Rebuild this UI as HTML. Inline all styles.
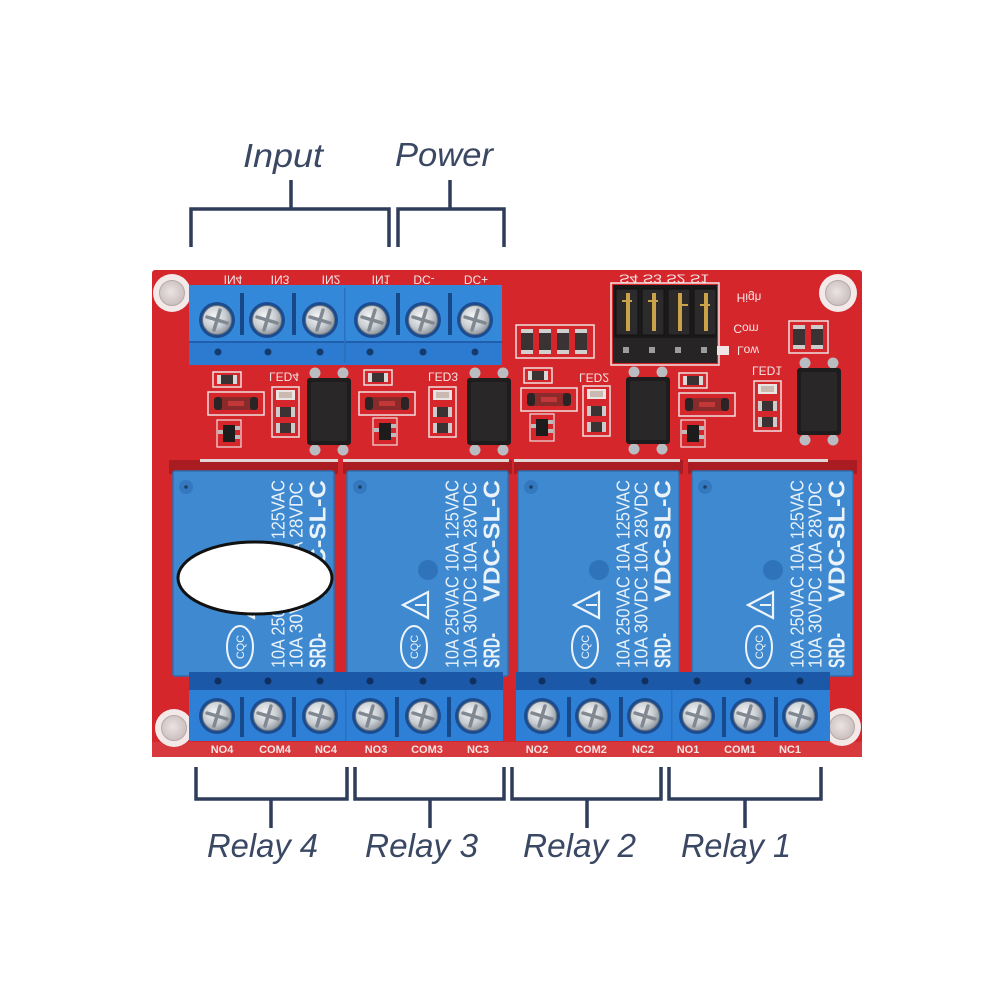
<!DOCTYPE html>
<html><head><meta charset="utf-8"><style>
html,body{margin:0;padding:0;background:#fff;}
svg{display:block;}
</style></head><body>
<svg width="1000" height="1000" viewBox="0 0 1000 1000" xmlns="http://www.w3.org/2000/svg">
<defs>
<radialGradient id="sg" cx="40%" cy="38%" r="65%">
<stop offset="0" stop-color="#f4f5f6"/><stop offset="0.6" stop-color="#c9ced3"/><stop offset="1" stop-color="#8f969e"/>
</radialGradient>
<radialGradient id="hg" cx="45%" cy="45%" r="60%">
<stop offset="0" stop-color="#ebe3e3"/><stop offset="1" stop-color="#c9bcbc"/>
</radialGradient>
<g id="scr">
<circle r="18" fill="#1b4c90"/>
<circle r="14.5" fill="url(#sg)" stroke="#69727c" stroke-width="1"/>
<path d="M-10,-3 L10,3 M-3,10 L3,-10" stroke="#808891" stroke-width="3.5" stroke-linecap="round"/>
</g>
<g id="hole">
<circle r="19" fill="#f2e9e8"/>
<circle r="12.5" fill="url(#hg)" stroke="#b7a9a9" stroke-width="1"/>
</g>
<g id="opto">
<circle cx="8" cy="-5" r="5.5" fill="#b9bcc0"/><circle cx="36" cy="-5" r="5.5" fill="#b9bcc0"/>
<circle cx="8" cy="72" r="5.5" fill="#b9bcc0"/><circle cx="36" cy="72" r="5.5" fill="#b9bcc0"/>
<rect x="0" y="0" width="44" height="67" rx="3" fill="#1e1c1d"/>
<rect x="4" y="4" width="36" height="59" rx="2" fill="#2a2728"/>
</g>
<g id="res">
<rect x="0" y="0" width="28" height="15" fill="none" stroke="#efdfdf" stroke-width="1.5"/>
<rect x="4" y="3" width="20" height="9" fill="#3b3333"/>
<rect x="4" y="3" width="4" height="9" fill="#d8d8d8"/><rect x="20" y="3" width="4" height="9" fill="#d8d8d8"/>
</g>
<g id="dio">
<rect x="0" y="0" width="56" height="23" fill="none" stroke="#efdfdf" stroke-width="1.5"/>
<rect x="6" y="5" width="44" height="13" rx="6" fill="#8a2a2a"/>
<rect x="6" y="5" width="8" height="13" rx="3" fill="#2a2424"/><rect x="42" y="5" width="8" height="13" rx="3" fill="#2a2424"/>
<rect x="20" y="9" width="16" height="5" fill="#c23838"/>
</g>
<g id="tr">
<rect x="0" y="0" width="24" height="27" fill="none" stroke="#efdfdf" stroke-width="1.2"/>
<rect x="6" y="5" width="12" height="17" fill="#1d1b1c"/>
<rect x="1" y="10" width="5" height="4" fill="#bbb"/><rect x="18" y="6" width="5" height="4" fill="#bbb"/><rect x="18" y="15" width="5" height="4" fill="#bbb"/>
</g>
<g id="col">
<rect x="0" y="0" width="27" height="50" fill="none" stroke="#efdfdf" stroke-width="1.5"/>
<rect x="4" y="3" width="19" height="10" fill="#e8e4e4"/><rect x="7" y="5" width="13" height="6" fill="#c9b9b0"/>
<rect x="4" y="20" width="19" height="10" fill="#3b3333"/><rect x="4" y="20" width="4" height="10" fill="#ccc"/><rect x="19" y="20" width="4" height="10" fill="#ccc"/>
<rect x="4" y="36" width="19" height="10" fill="#3b3333"/><rect x="4" y="36" width="4" height="10" fill="#ccc"/><rect x="19" y="36" width="4" height="10" fill="#ccc"/>
</g>
<g id="relay">
<rect x="0" y="0" width="161" height="205" rx="2" fill="#3e89cf" stroke="#2e6fb0" stroke-width="1.5"/>
<circle cx="13" cy="16" r="7" fill="#3479bf"/><circle cx="13" cy="16" r="1.8" fill="#1d3f66"/>
<circle cx="81" cy="99" r="10" fill="#2f74ba"/>
<polygon points="56,134 81,121 81,147" fill="none" stroke="#eef4fa" stroke-width="2.2"/>
<line x1="68" y1="134" x2="79" y2="134" stroke="#eef4fa" stroke-width="2"/>
<ellipse cx="67" cy="176" rx="13" ry="21" fill="none" stroke="#eef4fa" stroke-width="2"/>
<text transform="translate(71,188) rotate(-90)" font-family="Liberation Sans, sans-serif" font-size="11" fill="#eef4fa" textLength="24" lengthAdjust="spacingAndGlyphs">CQC</text>
<text transform="translate(111.5,197) rotate(-90)" font-family="Liberation Sans, sans-serif" font-size="18" fill="#eaf2fa" textLength="188" lengthAdjust="spacingAndGlyphs">10A 250VAC  10A 125VAC</text>
<text transform="translate(129.5,197) rotate(-90)" font-family="Liberation Sans, sans-serif" font-size="18" fill="#eaf2fa" textLength="186" lengthAdjust="spacingAndGlyphs">10A  30VDC  10A  28VDC</text>
<text transform="translate(152.5,197) rotate(-90)" font-family="Liberation Sans, sans-serif" font-size="23" font-weight="bold" fill="#eaf2fa" textLength="35" lengthAdjust="spacingAndGlyphs">SRD-</text>
<text transform="translate(152.5,131) rotate(-90)" font-family="Liberation Sans, sans-serif" font-size="23" font-weight="bold" fill="#eaf2fa" textLength="122" lengthAdjust="spacingAndGlyphs">VDC-SL-C</text>
</g>
</defs>

<rect width="1000" height="1000" fill="#fff"/>

<!-- board -->
<rect x="152" y="270" width="710" height="487" rx="3" fill="#d4262b"/>
<rect x="152" y="742" width="710" height="15" fill="#d8393c"/>

<use href="#hole" x="172" y="293"/>
<use href="#hole" x="838" y="293"/>
<use href="#hole" x="174" y="728"/>
<use href="#hole" x="842" y="727"/>

<!-- top silkscreen labels (flipped) -->
<g font-family="Liberation Sans, sans-serif" font-size="12" fill="#f4e6e6" text-anchor="middle">
<text transform="translate(233,280) scale(1,-1)" y="4.5">IN4</text>
<text transform="translate(280,280) scale(1,-1)" y="4.5">IN3</text>
<text transform="translate(331,280) scale(1,-1)" y="4.5">IN2</text>
<text transform="translate(381,280) scale(1,-1)" y="4.5">IN1</text>
<text transform="translate(424,280) scale(1,-1)" y="4.5">DC-</text>
<text transform="translate(476,280) scale(1,-1)" y="4.5">DC+</text>
<text transform="translate(664,279) scale(1,-1)" y="4.5" textLength="90" lengthAdjust="spacingAndGlyphs">S4 S3 S2 S1</text>
<text transform="translate(749,298) scale(1,-1)" y="4.5">High</text>
<text transform="translate(746,329) scale(1,-1)" y="4.5">Com</text>
<text transform="translate(748,351) scale(1,-1)" y="4.5">Low</text>
<text transform="translate(284,377) scale(1,-1)" y="4.5">LED4</text>
<text transform="translate(443,377) scale(1,-1)" y="4.5">LED3</text>
<text transform="translate(594,378) scale(1,-1)" y="4.5">LED2</text>
<text transform="translate(767,371) scale(1,-1)" y="4.5">LED1</text>
</g>
<rect x="717" y="346" width="12" height="9" fill="#f0e4e4"/>

<!-- top terminal block -->
<rect x="189" y="285" width="313" height="80" fill="#2c7bd0"/>
<rect x="189" y="285" width="313" height="57" fill="#3488da"/>
<rect x="189" y="341" width="313" height="2" fill="#1f5fae"/>
<rect x="240" y="293" width="4" height="42" fill="#17498a"/>
<rect x="292" y="293" width="4" height="42" fill="#17498a"/>
<rect x="344" y="288" width="1.5" height="75" fill="#2a6fc0"/>
<rect x="396" y="293" width="4" height="42" fill="#17498a"/>
<rect x="448" y="293" width="4" height="42" fill="#17498a"/>
<g fill="#153b6e">
<circle cx="218" cy="352" r="3.5"/><circle cx="268" cy="352" r="3.5"/><circle cx="320" cy="352" r="3.5"/>
<circle cx="370" cy="352" r="3.5"/><circle cx="423" cy="352" r="3.5"/><circle cx="475" cy="352" r="3.5"/>
</g>
<use href="#scr" x="217" y="320"/><use href="#scr" x="267" y="320"/><use href="#scr" x="320" y="320"/>
<use href="#scr" x="372" y="320"/><use href="#scr" x="423" y="320"/><use href="#scr" x="475" y="320"/>

<!-- jumper header -->
<rect x="611" y="283" width="108" height="82" fill="none" stroke="#f1e3e3" stroke-width="1.5"/>
<rect x="613" y="285" width="104" height="78" fill="#1b1a1a"/>
<rect x="613" y="338" width="104" height="25" fill="#262424"/>
<g fill="#2c2a2a" stroke="#111" stroke-width="1">
<rect x="616" y="289" width="22" height="46"/><rect x="642" y="289" width="22" height="46"/>
<rect x="668" y="289" width="22" height="46"/><rect x="694" y="289" width="22" height="46"/>
</g>
<g fill="#c9a24a">
<rect x="626" y="293" width="4" height="38"/><rect x="622" y="300" width="10" height="2"/>
<rect x="652" y="293" width="4" height="38"/><rect x="648" y="300" width="10" height="2"/>
<rect x="678" y="293" width="4" height="38"/><rect x="680" y="304" width="8" height="2"/>
<rect x="704" y="293" width="4" height="38"/><rect x="700" y="304" width="10" height="2"/>
</g>
<g fill="#9c9c9c">
<rect x="623" y="347" width="6" height="6"/><rect x="649" y="347" width="6" height="6"/>
<rect x="675" y="347" width="6" height="6"/><rect x="701" y="347" width="6" height="6"/>
</g>

<!-- resistor row channel 2 -->
<rect x="516" y="325" width="78" height="33" fill="none" stroke="#efdfdf" stroke-width="1.5"/>
<g fill="#3b3333">
<rect x="521" y="329" width="12" height="25"/><rect x="539" y="329" width="12" height="25"/>
<rect x="557" y="329" width="12" height="25"/><rect x="575" y="329" width="12" height="25"/>
</g>
<g fill="#d0d0d0">
<rect x="521" y="329" width="12" height="4"/><rect x="521" y="350" width="12" height="4"/>
<rect x="539" y="329" width="12" height="4"/><rect x="539" y="350" width="12" height="4"/>
<rect x="557" y="329" width="12" height="4"/><rect x="557" y="350" width="12" height="4"/>
<rect x="575" y="329" width="12" height="4"/><rect x="575" y="350" width="12" height="4"/>
</g>
<!-- two resistors channel 1 -->
<rect x="789" y="321" width="39" height="32" fill="none" stroke="#efdfdf" stroke-width="1.5"/>
<rect x="793" y="325" width="12" height="24" fill="#3b3333"/><rect x="811" y="325" width="12" height="24" fill="#3b3333"/>
<rect x="793" y="325" width="12" height="4" fill="#ccc"/><rect x="793" y="345" width="12" height="4" fill="#ccc"/>
<rect x="811" y="325" width="12" height="4" fill="#ccc"/><rect x="811" y="345" width="12" height="4" fill="#ccc"/>

<!-- channel components -->
<use href="#res" x="213" y="372"/><use href="#dio" x="208" y="392"/><use href="#tr" x="217" y="420"/><use href="#col" x="272" y="387"/>
<use href="#opto" x="307" y="378"/>
<use href="#res" x="364" y="370"/><use href="#dio" x="359" y="392"/><use href="#tr" x="373" y="418"/><use href="#col" x="429" y="387"/>
<use href="#opto" x="467" y="378"/>
<use href="#res" x="524" y="368"/><use href="#dio" x="521" y="388"/><use href="#tr" x="530" y="414"/><use href="#col" x="583" y="386"/>
<use href="#opto" x="626" y="377"/>
<use href="#res" x="679" y="373"/><use href="#dio" x="679" y="393"/><use href="#tr" x="681" y="420"/><use href="#col" x="754" y="381"/>
<use href="#opto" x="797" y="368"/>

<!-- relay footprints (top band only) -->
<g fill="#a91d22">
<rect x="169" y="460" width="169" height="14"/>
<rect x="343" y="460" width="169" height="14"/>
<rect x="514" y="460" width="169" height="14"/>
<rect x="688" y="460" width="169" height="14"/>
</g>
<g fill="#e2d5d5">
<rect x="200" y="459" width="138" height="3"/>
<rect x="343" y="459" width="166" height="3"/>
<rect x="514" y="459" width="166" height="3"/>
<rect x="688" y="459" width="140" height="3"/>
</g>

<!-- relays -->
<use href="#relay" x="173" y="471"/>
<use href="#relay" x="347" y="471"/>
<use href="#relay" x="518" y="471"/>
<use href="#relay" x="692" y="471"/>

<!-- white ellipse -->
<ellipse cx="255" cy="578" rx="77" ry="36" fill="#ffffff" stroke="#111" stroke-width="3"/>

<!-- bottom terminal blocks -->
<rect x="189" y="672" width="314" height="20" fill="#1b58a8"/>
<rect x="189" y="690" width="314" height="51" fill="#2e80d6"/>
<rect x="516" y="672" width="314" height="20" fill="#1b58a8"/>
<rect x="516" y="690" width="314" height="51" fill="#2e80d6"/>
<g fill="#0f2f5e">
<circle cx="218" cy="681" r="3.5"/><circle cx="268" cy="681" r="3.5"/><circle cx="320" cy="681" r="3.5"/>
<circle cx="370" cy="681" r="3.5"/><circle cx="423" cy="681" r="3.5"/><circle cx="473" cy="681" r="3.5"/>
<circle cx="542" cy="681" r="3.5"/><circle cx="593" cy="681" r="3.5"/><circle cx="645" cy="681" r="3.5"/>
<circle cx="697" cy="681" r="3.5"/><circle cx="748" cy="681" r="3.5"/><circle cx="800" cy="681" r="3.5"/>
</g>
<g fill="#164a8c">
<rect x="240" y="697" width="4" height="40"/><rect x="292" y="697" width="4" height="40"/>
<rect x="395" y="697" width="4" height="40"/><rect x="447" y="697" width="4" height="40"/>
<rect x="567" y="697" width="4" height="40"/><rect x="619" y="697" width="4" height="40"/>
<rect x="722" y="697" width="4" height="40"/><rect x="774" y="697" width="4" height="40"/>
</g>
<rect x="345" y="690" width="1.5" height="51" fill="#2a6fc0"/>
<rect x="671" y="690" width="1.5" height="51" fill="#2a6fc0"/>
<use href="#scr" x="217" y="716"/><use href="#scr" x="268" y="716"/><use href="#scr" x="320" y="716"/>
<use href="#scr" x="370" y="716"/><use href="#scr" x="423" y="716"/><use href="#scr" x="473" y="716"/>
<use href="#scr" x="542" y="716"/><use href="#scr" x="593" y="716"/><use href="#scr" x="645" y="716"/>
<use href="#scr" x="697" y="716"/><use href="#scr" x="748" y="716"/><use href="#scr" x="800" y="716"/>

<!-- bottom labels -->
<g font-family="Liberation Sans, sans-serif" font-size="11" font-weight="bold" fill="#f6e4e4" text-anchor="middle">
<text x="222" y="753">NO4</text><text x="275" y="753">COM4</text><text x="326" y="753">NC4</text>
<text x="376" y="753">NO3</text><text x="427" y="753">COM3</text><text x="478" y="753">NC3</text>
<text x="537" y="753">NO2</text><text x="591" y="753">COM2</text><text x="643" y="753">NC2</text>
<text x="688" y="753">NO1</text><text x="740" y="753">COM1</text><text x="790" y="753">NC1</text>
</g>

<!-- brackets -->
<g fill="none" stroke="#2f3d5a" stroke-width="3.5">
<path d="M191,247 V209 H389 V247 M291,209 V180"/>
<path d="M398,247 V209 H504 V247 M450,209 V180"/>
<path d="M196,767 V799 H347 V767 M271,799 V828"/>
<path d="M355,767 V799 H504 V767 M430,799 V828"/>
<path d="M512,767 V799 H661 V767 M587,799 V828"/>
<path d="M669,767 V799 H821 V767 M745,799 V828"/>
</g>
<g font-family="Liberation Sans, sans-serif" font-style="italic" font-size="33" fill="#3a4863">
<text x="243" y="167" textLength="80" lengthAdjust="spacingAndGlyphs">Input</text>
<text x="395" y="166" textLength="98" lengthAdjust="spacingAndGlyphs">Power</text>
<text x="207" y="857" textLength="111" lengthAdjust="spacingAndGlyphs">Relay 4</text>
<text x="365" y="857" textLength="113" lengthAdjust="spacingAndGlyphs">Relay 3</text>
<text x="523" y="857" textLength="113" lengthAdjust="spacingAndGlyphs">Relay 2</text>
<text x="681" y="857" textLength="110" lengthAdjust="spacingAndGlyphs">Relay 1</text>
</g>
</svg>
</body></html>
